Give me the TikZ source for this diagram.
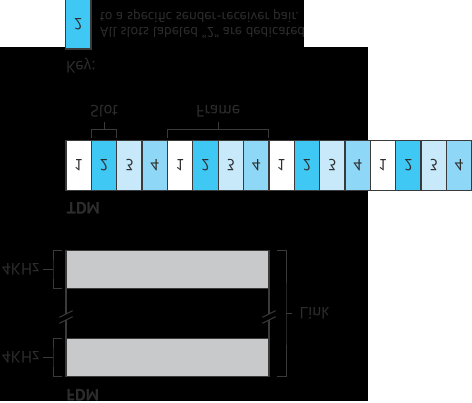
\documentclass[tikz,border=0pt]{standalone}
\usepackage{fontspec}
\setmainfont{PT Sans}
\usepackage{tikz}
\usetikzlibrary{calc}
\definecolor{TDMslot1}{RGB}{255,255,255}
\definecolor{TDMslot2}{RGB}{64,200,244}
\definecolor{TDMslot3}{RGB}{199,233,250}
\definecolor{TDMslot4}{RGB}{142,215,247}
\definecolor{ChanGray}{RGB}{200,201,203}
\definecolor{InkGray}{RGB}{58,58,58}
\definecolor{TextGray}{RGB}{45,45,45}

\begin{document}
\begin{tikzpicture}[
  x=1pt,y=1pt,yscale=-1,transform shape,
  cell/.style={
    draw=InkGray,line width=1.3pt,text=TextGray,
    minimum width=25.36pt,minimum height=49.6pt,
    inner sep=0pt,outer sep=0pt,font=\fontsize{16}{18}\selectfont
  },
  chan/.style={
    draw=InkGray,fill=ChanGray,line width=1.3pt,
    minimum width=203pt,minimum height=38pt,inner sep=0pt,outer sep=0pt
  },
  bline/.style={draw=InkGray,line width=1pt},
  lbl/.style={text=TextGray,inner sep=0pt,font=\fontsize{16.5}{18}\selectfont},
  keylbl/.style={lbl,font=\fontsize{14.2}{15.3}\selectfont},
  headlbl/.style={lbl,font=\fontsize{16.5}{18}\selectfont\bfseries}
]
  \useasboundingbox (0,0) rectangle (472,403);
  \fill[white] (0,0) rectangle (472,403);
  \fill[black] (65,0) rectangle (304,47);
  \fill[black] (0,47) rectangle (368,401);

  % key
  \node[cell,fill=TDMslot2] (keybox) at (78.3,24.2) {2};
  \node[lbl,anchor=base west] (keyhead) at (66,61.5) {Key:};
  \node[keylbl,anchor=west,align=left] (keytext) at (100,24)
    {All slots labeled “2” are dedicated\\
     to a specific sender-receiver pair.};

  % TDM
  \foreach \i in {1,...,16}{
    \pgfmathtruncatemacro{\n}{mod(\i-1,4)+1}
    \node[cell,fill=TDMslot\n] (c\i) at ({66+(\i-0.5)*25.36},165.5) {\n};
  }
  \node[headlbl,anchor=base west] (tdmlabel) at (66.5,202.7) {TDM};
  \draw[bline] ($(c2.south west)+(0,-2.4)$) |- ($(c2.south)+(0,-11.4)$)
    coordinate (slotmid) -| ($(c2.south east)+(0,-2.4)$);
  \draw[bline] (slotmid) -- ++(0,-7.6) node[lbl,below=4pt] (slotlbl) {Slot};
  \draw[bline] ($(c5.south west)+(0,-2.4)$)
    |- ($(c5.south west)!0.5!(c8.south east)+(0,-11.4)$)
    coordinate (framemid) -| ($(c8.south east)+(0,-2.4)$);
  \draw[bline] (framemid) -- ++(0,-7.6) node[lbl,below=4pt] (framelbl) {Frame};

  % FDM
  \node[chan] (chanA) at (167.5,269.7) {};
  \node[chan] (chanB) at (167.5,357.7) {};
  \node[headlbl,anchor=base west] (fdmlabel) at (66.5,390) {FDM};
  \foreach \ch in {chanA,chanB}{
    \draw[bline] ($(\ch.north west)+(-4,0)$) -| ($(\ch.west)+(-13,0)$)
      coordinate (\ch-k) |- ($(\ch.south west)+(-4,0)$);
    \draw[bline] (\ch-k) -- ++(-10,0) node[lbl,left=3pt] (\ch-lbl) {4KHz};
  }
  \draw[bline] ($(chanA.south east)+(8.3,0)$)
    -| ($(chanA.south east)!0.5!(chanB.north east)+(17,0)$)
    coordinate (linkmid) |- ($(chanB.north east)+(8.3,0)$);
  \draw[bline] (linkmid) -- ++(6,0) node[lbl,right=7pt] (linklbl) {Link};
  \foreach \s in {west,east}{
    \draw[bline,line width=1.3pt] (chanA.north \s) -- ++(0,25.3);
    \draw[bline,line width=1.3pt] (chanB.south \s) -- ++(0,-18.7);
    \draw[bline] ($(chanA.north \s)+(-6.7,28.6)$) -- ++(13.4,-6.6);
    \draw[bline] ($(chanA.north \s)+(-6.7,34.6)$) -- ++(13.4,-6.6);
  }
  \fill[white] (0,401) rectangle (472,403);
\end{tikzpicture}
\end{document}
